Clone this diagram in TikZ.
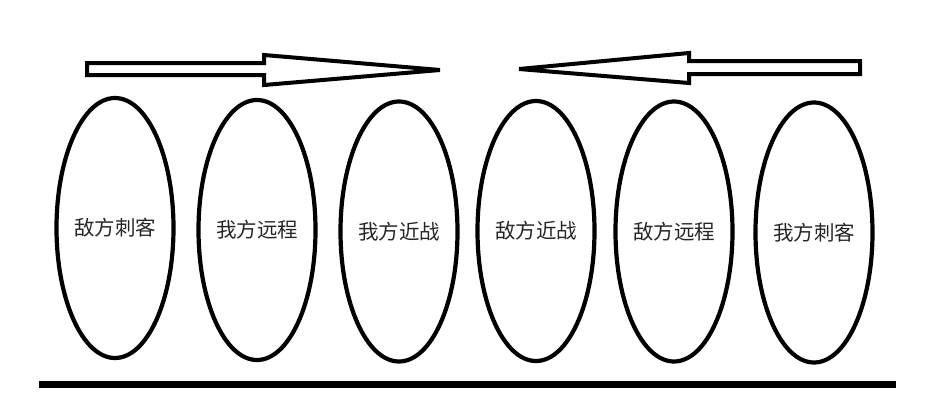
\documentclass[tikz,border=0pt]{standalone}
\usepackage{fontspec}
\newfontfamily\cjk{Noto Sans CJK SC}
\usetikzlibrary{shapes.geometric}
\begin{document}
\begin{tikzpicture}[x=1pt,y=-1pt,
  unit/.style={ellipse,draw=black,line width=4.2pt,inner sep=0pt,
    minimum width=117pt,minimum height=260pt,
    font=\cjk\fontsize{20.5}{22}\selectfont,text=black!85},
  bigarrow/.style={draw=black,line width=4pt,line join=miter,fill=white},
  ground/.style={line width=7pt}]
\useasboundingbox (0,0) rectangle (940,413);
\node[unit] (e1) at (115,228) {敌方刺客};
\node[unit] (e2) at (257,230) {我方远程};
\node[unit] (e3) at (399,231.5) {我方近战};
\node[unit] (e4) at (536,231) {敌方近战};
\node[unit] (e5) at (674,231.5) {敌方远程};
\node[unit] (e6) at (814,232.5) {我方刺客};
\draw[bigarrow] (87,63) -- (264,63) -- (264,55) -- (440,70) -- (264,85) -- (264,75) -- (87,75) -- cycle;
\draw[bigarrow] (860,61) -- (689,61) -- (689,53) -- (519,69) -- (689,83) -- (689,74) -- (860,74) -- cycle;
\coordinate (gl) at (39,384.5);
\coordinate (gr) at (896,384.5);
\draw[ground] (gl) -- (gr);
\end{tikzpicture}
\end{document}
